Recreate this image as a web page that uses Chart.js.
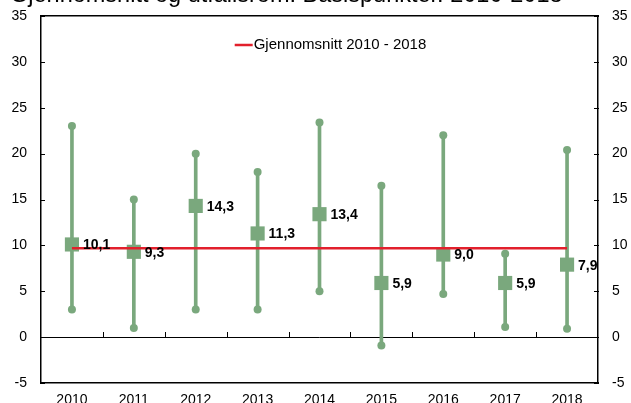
<!DOCTYPE html>
<html>
<head>
<meta charset="utf-8">
<script src="https://cdn.jsdelivr.net/npm/chart.js@4"></script>
<style>
  html, body { margin: 0; padding: 0; background: #fff; overflow: hidden; width: 631px; height: 403px; }
  #wrap { position: absolute; left: 0; top: 0; width: 631px; height: 420px; }
  #title { position: absolute; left: 10px; top: -17px; z-index: 2; white-space: nowrap; color: #000;
           font: 23.5px "Liberation Sans", Arial, sans-serif; line-height: 23.5px; }
</style>
</head>
<body>
<div id="title">Gjennomsnitt og utfallsrom. Basispunkter. 2010-2018</div>
<div id="wrap"><canvas id="chart" width="631" height="420"></canvas></div>
<script>
// values
const years = ['2010', '2011', '2012', '2013', '2014', '2015', '2016', '2017', '2018'];
const median = [10.1, 9.3, 14.3, 11.3, 13.4, 5.9, 9.0, 5.9, 7.9];
const lows = [3.0, 1.0, 3.0, 3.0, 5.0, -0.9, 4.7, 1.1, 0.9];
const highs = [23.0, 15.0, 20.0, 18.0, 23.4, 16.5, 22.0, 9.1, 20.4];
const averageLine = [9.7, 9.7, 9.7, 9.7, 9.7, 9.7, 9.7, 9.7, 9.7];
const averageLabel = 'Gjennomsnitt 2010 - 2018';
const yMin = -5, yMax = 35, yStep = 5;

const green = '#7aa87d';
const red = '#e2202c';
const fontFamily = '"Liberation Sans", Arial, sans-serif';

Chart.defaults.font.family = fontFamily;
Chart.defaults.color = '#000';

//inward tick marks: on both value axes and on the zero line between the years
const innerTicksPlugin = {
  id: 'innerTicks',
  beforeDatasetsDraw(chart) {
    const ctx = chart.ctx;
    const xs = chart.scales.x;
    const ys = chart.scales.y;
    const y0 = Math.round(ys.getPixelForValue(0));
    ctx.save();
    ctx.fillStyle = '#000';
    for (let i = 1; i < years.length; i++) {
      const px = Math.round((xs.getPixelForValue(i - 1) + xs.getPixelForValue(i)) / 2);
      ctx.fillRect(px, y0 - 5, 1, 5);
    }
    ys.ticks.forEach(t => {
      const py = Math.round(ys.getPixelForValue(t.value));
      ctx.fillRect(Math.round(xs.left) - 1, py, 5, 1);
      ctx.fillRect(Math.round(xs.right) - 4, py, 5, 1);
    });
    ctx.restore();
  }
};

//legend inside the plot, near the top
const legendPlugin = {
  id: 'insideLegend',
  afterDatasetsDraw(chart) {
    const ctx = chart.ctx;
    const a = chart.chartArea;
    ctx.save();
    ctx.font = '15px ' + fontFamily;
    const w = ctx.measureText(averageLabel).width;
    const total = 19 + w;
    const x0 = (a.left + a.right) / 2 + 11 - total / 2;
    const y = a.top + 29;
    ctx.strokeStyle = red;
    ctx.lineWidth = 2.5;
    ctx.beginPath();
    ctx.moveTo(x0, y);
    ctx.lineTo(x0 + 18, y);
    ctx.stroke();
    ctx.fillStyle = '#000';
    ctx.textBaseline = 'middle';
    ctx.fillText(averageLabel, x0 + 19, y);
    ctx.restore();
  }
};

//value labels right of the squares
const labelPlugin = {
  id: 'valueLabels',
  afterDatasetsDraw(chart) {
    const ctx = chart.ctx;
    const meta = chart.getDatasetMeta(3);
    ctx.save();
    ctx.font = 'bold 14px ' + fontFamily;
    ctx.fillStyle = '#000';
    ctx.textBaseline = 'middle';
    ctx.textAlign = 'left';
    meta.data.forEach((p, i) => {
      ctx.fillText(median[i].toFixed(1).replace('.', ','), p.x + 11, p.y + 1);
    });
    ctx.restore();
  }
};

const frameBorder = { display: true, color: '#000', width: 1.5 };

//fixed axis sizes so the plot sits where the reference has it
function fitValueAxis(width) {
  return s => {
    s.width = width;
    s.paddingTop = 0;
    s.paddingBottom = 0;
  };
}

const ctx = document.getElementById('chart').getContext('2d');
new Chart(ctx, {
  data: {
    labels: years,
    datasets: [
      {
        type: 'bar',
        label: 'range',
        data: lows.map((l, i) => [l, highs[i]]),
        backgroundColor: green,
        barThickness: 3,
        order: 4
      },
      {
        type: 'line',
        label: 'low',
        data: lows,
        showLine: false,
        pointRadius: 4,
        pointBackgroundColor: green,
        pointBorderWidth: 0,
        order: 3
      },
      {
        type: 'line',
        label: 'high',
        data: highs,
        showLine: false,
        pointRadius: 4,
        pointBackgroundColor: green,
        pointBorderWidth: 0,
        order: 3
      },
      {
        type: 'line',
        label: 'median',
        data: median,
        showLine: false,
        pointStyle: 'rect',
        pointRadius: 10,
        pointBackgroundColor: green,
        pointBorderWidth: 0,
        order: 2
      },
      {
        type: 'line',
        label: averageLabel,
        data: averageLine,
        borderColor: red,
        backgroundColor: red,
        borderWidth: 2.5,
        pointRadius: 0,
        order: 0
      }
    ]
  },
  options: {
    responsive: false,
    animation: false,
    devicePixelRatio: 1,
    layout: { padding: { left: 0, right: 0, top: 16, bottom: 0 } },
    plugins: {
      tooltip: { enabled: false },
      legend: { display: false }
    },
    scales: {
      x: {
        type: 'category',
        offset: true,
        grid: { display: false, drawTicks: false },
        border: frameBorder,
        ticks: { font: { size: 14 }, color: '#000', padding: 9, maxRotation: 0 },
        afterFit: s => { s.height = 37; }
      },
      xTop: {
        type: 'category',
        position: 'top',
        offset: true,
        grid: { display: false, drawTicks: false },
        border: frameBorder,
        ticks: { display: false },
        afterFit: s => { s.height = 0; }
      },
      y: {
        position: 'left',
        min: yMin,
        max: yMax,
        border: frameBorder,
        grid: {
          color: c => (c.tick && c.tick.value === 0 ? '#000' : 'rgba(0,0,0,0)'),
          drawTicks: false
        },
        ticks: { stepSize: yStep, font: { size: 14 }, color: '#000', padding: 14 },
        afterFit: fitValueAxis(41)
      },
      y1: {
        position: 'right',
        min: yMin,
        max: yMax,
        border: frameBorder,
        grid: { drawOnChartArea: false, drawTicks: false },
        ticks: { stepSize: yStep, font: { size: 14 }, color: '#000', padding: 14 },
        afterFit: fitValueAxis(33)
      }
    }
  },
  plugins: [innerTicksPlugin, legendPlugin, labelPlugin]
});
</script>
</body>
</html>
